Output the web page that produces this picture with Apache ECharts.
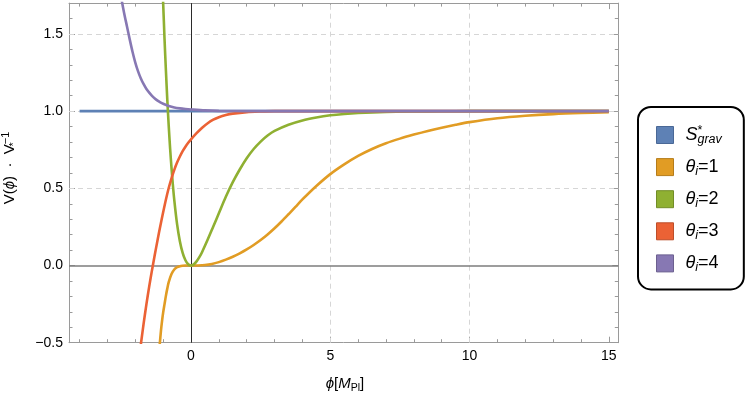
<!DOCTYPE html>
<html><head><meta charset="utf-8">
<script src="https://cdn.jsdelivr.net/npm/echarts@6/dist/echarts.min.js"></script>
<style>html,body{margin:0;padding:0;background:#fff}#c{width:747px;height:394px}</style>
</head><body><div id="c"></div>
<script>
// ---------- data ----------
const xRange = [-4.38, 15.34];
const yRange = [-0.5, 1.7];
const xMajorTicks = [0, 5, 10, 15];
const xMinorTicks = [-4, -3, -2, -1, 1, 2, 3, 4, 6, 7, 8, 9, 11, 12, 13, 14];
const yMajorTicks = [-0.5, 0, 0.5, 1, 1.5];
const yMinorTicks = [-0.4, -0.3, -0.2, -0.1, 0.1, 0.2, 0.3, 0.4, 0.6, 0.7, 0.8, 0.9, 1.1, 1.2, 1.3, 1.4, 1.6];
const gridX = [5, 10];
const gridY = [0.5, 1, 1.5];
const seriesKeys = ['sg', 't1', 't2', 't3', 't4'];

const sGrav = [[-4, 1], [15, 1]];
const theta1 = [[-1.16,-0.58],[-1.12,-0.505],[-1.08,-0.425],[-1.04,-0.36],[-1.0,-0.305],[-0.95,-0.25],[-0.9,-0.195],
  [-0.85,-0.148],[-0.8,-0.108],[-0.7,-0.055],[-0.6,-0.026],[-0.5,-0.011],[-0.4,-0.004],[-0.3,-0.0012],[-0.2,-0.0003],
  [0,0],[0.25,0.0005],[0.5,0.003],[0.75,0.01],[1.0,0.022],[1.25,0.038],[1.5,0.057],[1.75,0.079],[2.0,0.104],
  [2.25,0.133],[2.5,0.165],[2.75,0.201],[3.0,0.241],[3.25,0.285],[3.5,0.332],[3.75,0.38],[4.0,0.428],[4.5,0.515],
  [5.0,0.592],[5.5,0.655],[6.0,0.71],[6.5,0.755],[7.0,0.792],[7.5,0.822],[8.0,0.848],[8.5,0.872],[9.0,0.893],
  [9.5,0.912],[10,0.929],[11,0.954],[12,0.97],[13,0.981],[14,0.988],[15,0.9925]];
const theta2 = [[-1.03,1.79],[-1.0,1.70],[-0.95,1.465],[-0.9,1.26],[-0.85,1.07],[-0.8,0.905],[-0.75,0.758],[-0.7,0.632],
  [-0.65,0.52],[-0.6,0.424],[-0.5,0.268],[-0.4,0.158],[-0.3,0.082],[-0.2,0.034],[-0.1,0.008],[0,0],[0.1,0.0072],
  [0.2,0.027],[0.3,0.054],[0.4,0.088],[0.6,0.168],[0.8,0.253],[1.0,0.338],[1.25,0.445],[1.5,0.54],[1.75,0.622],
  [2.0,0.695],[2.25,0.755],[2.5,0.803],[2.75,0.842],[3.0,0.872],[3.5,0.912],[4.0,0.94],[4.5,0.959],[5.0,0.973],
  [5.5,0.982],[6,0.988],[7,0.995],[8,0.998],[9,0.9995],[10,1.0],[15,1.0]];
const theta3 = [[-1.85,-0.58],[-1.8,-0.51],[-1.7,-0.375],[-1.6,-0.25],[-1.5,-0.135],[-1.4,-0.03],[-1.3,0.07],[-1.2,0.165],
  [-1.1,0.258],[-1.0,0.345],[-0.9,0.428],[-0.8,0.502],[-0.7,0.565],[-0.6,0.62],[-0.5,0.667],[-0.4,0.706],[-0.3,0.741],
  [-0.2,0.77],[-0.1,0.795],[0,0.817],[0.2,0.857],[0.4,0.893],[0.6,0.922],[0.8,0.945],[1.0,0.961],[1.25,0.975],[1.5,0.984],
  [2,0.994],[2.5,0.998],[3,1.0],[15,1.0]];
const theta4 = [[-2.55,1.79],[-2.5,1.73],[-2.4,1.635],[-2.3,1.55],[-2.2,1.465],[-2.1,1.385],[-2.0,1.315],[-1.9,1.258],
  [-1.8,1.212],[-1.7,1.175],[-1.6,1.144],[-1.5,1.12],[-1.4,1.099],[-1.3,1.082],[-1.2,1.068],[-1.1,1.057],[-1.0,1.048],
  [-0.8,1.034],[-0.6,1.024],[-0.4,1.018],[-0.2,1.014],[0,1.011],[0.5,1.005],[1,1.002],[2,1.0005],[3,1.0],[15,1.0]];

// ---------- styling ----------
const FONT = '"Liberation Sans", Arial, "DejaVu Sans", sans-serif';
const colors = ['#5E81B5', '#E19C24', '#8FB032', '#EB6235', '#8778B3'];
const edge = ['#4a6896', '#b57c1a', '#728d27', '#bd4e2a', '#6c608f'];
const seriesData = [sGrav, theta1, theta2, theta3, theta4];
const frameColor = '#9a9a9a';

function mkX(pos, ticks, len, line, labels) {
  return {
    type: 'value', position: pos, min: xRange[0], max: xRange[1],
    axisLine: {show: line, onZero: false, lineStyle: {color: frameColor, width: 1}},
    axisTick: {show: true, inside: true, length: len, customValues: ticks, lineStyle: {color: frameColor, width: 1}},
    axisLabel: labels ? {show: true, customValues: xMajorTicks, margin: 6, color: '#000', fontSize: 14, fontFamily: FONT,
      formatter: v => String(v)} : {show: false},
    splitLine: {show: false}, minorTick: {show: false}
  };
}
function mkY(pos, ticks, len, line, labels) {
  return {
    type: 'value', position: pos, min: yRange[0], max: yRange[1],
    axisLine: {show: line, onZero: false, lineStyle: {color: frameColor, width: 1}},
    axisTick: {show: true, inside: true, length: len, customValues: ticks, lineStyle: {color: frameColor, width: 1}},
    axisLabel: labels ? {show: true, customValues: yMajorTicks, margin: 6, color: '#000', fontSize: 14, fontFamily: FONT,
      formatter: v => v.toFixed(1).replace('-', '\u2212')} : {show: false},
    splitLine: {show: false}
  };
}

const richLegend = {
  lead: {fontSize: 18, fontStyle: 'italic', fontFamily: FONT, lineHeight: 22, padding: [0, 0, 0, 7], color: '#000'},
  n: {fontSize: 18, fontFamily: FONT, lineHeight: 22, color: '#000'},
  sub: {fontSize: 12.5, fontStyle: 'italic', fontFamily: FONT, lineHeight: 11, verticalAlign: 'bottom', color: '#000'},
  sup: {fontSize: 12.5, fontFamily: FONT, lineHeight: 10, verticalAlign: 'top', width: 0, color: '#000'}
};
const legendText = {
  sg: '{lead|S}{sup|*}{sub|grav}',
  t1: '{lead|\u03b8}{sub|i}{n|=1}',
  t2: '{lead|\u03b8}{sub|i}{n|=2}',
  t3: '{lead|\u03b8}{sub|i}{n|=3}',
  t4: '{lead|\u03b8}{sub|i}{n|=4}'
};

const series = [{
  type: 'line', data: [], silent: true, z: 1, animation: false,
  markLine: {
    silent: true, z: 1, symbol: ['none', 'none'], label: {show: false}, animation: false,
    lineStyle: {color: '#d6d6d6', width: 1, type: [5, 4]},
    emphasis: {disabled: true},
    data: gridX.map(v => ({xAxis: v})).concat(gridY.map(v => ({yAxis: v})))
  }
}, {
  type: 'line', data: [], silent: true, z: 1, animation: false,
  markLine: {
    silent: true, z: 1, symbol: ['none', 'none'], label: {show: false}, animation: false,
    emphasis: {disabled: true},
    data: [{xAxis: 0, lineStyle: {color: '#2b2b2b', width: 1, type: 'solid'}},
           {yAxis: 0, lineStyle: {color: '#7d7d7d', width: 1.6, type: 'solid'}}]
  }
}];
seriesKeys.forEach((k, i) => {
  series.push({
    name: k, type: 'line', data: seriesData[i], showSymbol: false, symbol: 'none',
    smooth: 0.3, clip: true, z: 3 + i, animation: false,
    lineStyle: {color: colors[i], width: 2.6}, itemStyle: {color: colors[i]},
    emphasis: {disabled: true}
  });
});

const chart = echarts.init(document.getElementById('c'), null, {renderer: 'canvas'});
chart.setOption({
  animation: false,
  backgroundColor: '#fff',
  grid: {left: 69, right: 128.7, top: 3.1, bottom: 51.3, containLabel: false},
  xAxis: [mkX('bottom', xMajorTicks, 6, true, true), mkX('bottom', xMinorTicks, 3.5, false, false),
          mkX('top', xMajorTicks, 6, true, false), mkX('top', xMinorTicks, 3.5, false, false)],
  yAxis: [mkY('left', yMajorTicks, 6, true, true), mkY('left', yMinorTicks, 3.5, false, false),
          mkY('right', yMajorTicks, 6, true, false), mkY('right', yMinorTicks, 3.5, false, false)],
  legend: {
    orient: 'vertical', left: 638, top: 107, selectedMode: false,
    itemWidth: 17, itemHeight: 17, itemGap: 12.1,
    padding: [17, 22, 15, 18],
    borderColor: '#000', borderWidth: 2, borderRadius: 13, backgroundColor: '#fff',
    icon: 'rect',
    data: seriesKeys.map((k, i) => ({name: k, itemStyle: {color: colors[i], borderColor: edge[i], borderWidth: 1}})),
    formatter: name => legendText[name],
    textStyle: {fontSize: 18, fontFamily: FONT, color: '#000', rich: richLegend}
  },
  graphic: [{
    type: 'text', x: 10, y: 168, rotation: Math.PI / 2, silent: true,
    style: {
      text: '{n|V(}{i|\u03d5}{n|)  \u00b7  V}{sub|*}{sup|\u22121}',
      align: 'center', verticalAlign: 'middle', fill: '#000', font: '15px ' + FONT,
      rich: {
        n: {fontSize: 15, fontFamily: FONT, lineHeight: 19, fill: '#000'},
        i: {fontSize: 15, fontStyle: 'italic', fontFamily: FONT, lineHeight: 19, fill: '#000'},
        sub: {fontSize: 11, fontFamily: FONT, lineHeight: 8, verticalAlign: 'bottom', width: 0, fill: '#000'},
        sup: {fontSize: 11, fontFamily: FONT, lineHeight: 8, verticalAlign: 'top', fill: '#000'}
      }
    }
  }, {
    type: 'text', x: 345, y: 384, silent: true,
    style: {
      text: '{i|\u03d5}{n|[}{i|M}{sub|Pl}{n|]}',
      align: 'center', verticalAlign: 'middle', fill: '#000', font: '15px ' + FONT,
      rich: {
        n: {fontSize: 15, fontFamily: FONT, lineHeight: 19, fill: '#000'},
        i: {fontSize: 15, fontStyle: 'italic', fontFamily: FONT, lineHeight: 19, fill: '#000'},
        sub: {fontSize: 10.5, fontFamily: FONT, lineHeight: 10, verticalAlign: 'bottom', fill: '#000'}
      }
    }
  }],
  series: series
});
</script></body></html>
